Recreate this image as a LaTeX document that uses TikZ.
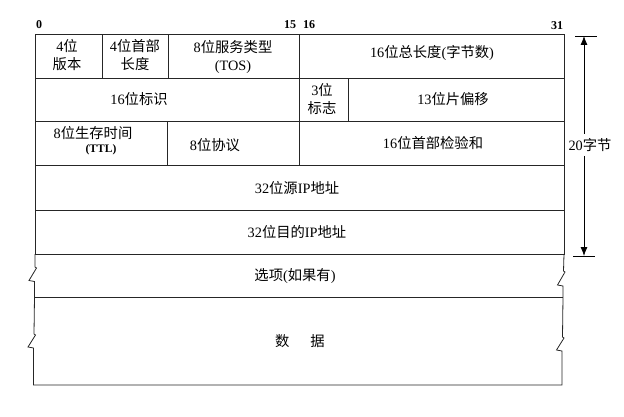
\documentclass[tikz,border=0pt]{standalone}
\usepackage{fontspec}
\setmainfont{Liberation Serif}
\newfontfamily\zhfont{Noto Sans CJK SC}
\newcommand\zh[1]{{\zhfont #1}}
\usetikzlibrary{fit,arrows.meta}
\begin{document}
\begin{tikzpicture}[x=1pt,y=-1pt,
  frame/.style={draw=black!85,line width=0.8pt},
  field/.style={frame,inner sep=0pt,fill=none},
  txt/.style={font=\fontsize{14.3}{18}\selectfont,align=center,inner sep=0pt},
  bit/.style={font=\bfseries\fontsize{12}{13}\selectfont,inner sep=0pt},
  dim/.style={draw=black,line width=0.8pt},
  tip/.style={-{Latex[length=9pt,width=7pt]}}]
\useasboundingbox (0,0) rectangle (624,417);
% bit numbers
\node[bit] (b0)  at (39,25) {0};
\node[bit] (b15) at (290,25) {15};
\node[bit] (b16) at (309,25) {16};
\node[bit] (b31) at (557,26) {31};
% row 1
\node[field,fit={(35,34) (102,78)}] (ver) {};
\node[field,fit={(102,34) (168,78)}] (ihl) {};
\node[field,fit={(168,34) (299,78)}] (tos) {};
\node[field,fit={(299,34) (564,78)}] (len) {};
\node[txt] (tver) at (67,55) {4\zh{位}\\\zh{版本}};
\node[txt] (tihl) at (135,55) {4\zh{位首部}\\\zh{长度}};
\node[txt] (ttos) at (233,57) {8\zh{位服务类型}\\(TOS)};
\node[txt] (tlen) at (432,53) {16\zh{位总长度}(\zh{字节数})};
% row 2
\node[field,fit={(35,78) (299,121)}] (id) {};
\node[field,fit={(299,78) (348,121)}] (flg) {};
\node[field,fit={(348,78) (564,121)}] (off) {};
\node[txt] (tid) at (139,99) {16\zh{位标识}};
\node[txt] (tflg) at (322,99) {3\zh{位}\\\zh{标志}};
\node[txt] (toff) at (453,99) {13\zh{位片偏移}};
% row 3
\node[field,fit={(35,121) (167,165)}] (ttl) {};
\node[field,fit={(167,121) (299,165)}] (pro) {};
\node[field,fit={(299,121) (564,165)}] (chk) {};
\node[txt] (tttl) at (93,133) {8\zh{位生存时间}};
\node[txt,font=\bfseries\fontsize{11.5}{13}\selectfont] (tttl2) at (101,150) {(TTL)};
\node[txt] (tpro) at (215,145) {8\zh{位协议}};
\node[txt] (tchk) at (433,143) {16\zh{位首部检验和}};
% rows 4,5
\node[field,fit={(35,165) (564,210)}] (src) {};
\node[field,fit={(35,210) (564,254)}] (dst) {};
\node[txt] (tsrc) at (297,188) {32\zh{位源}IP\zh{地址}};
\node[txt] (tdst) at (297,232) {32\zh{位目的}IP\zh{地址}};
% options and data with break marks
\draw[frame] (35,254) -- (35,267) -- (36.5,268) -- (29,280.5) -- (34.5,281.5) -- (34.5,297)
  -- (34,334) -- (35.5,335) -- (28,347) -- (33.5,348) -- (33.5,385) -- (562,385)
  -- (562,351) -- (556.5,350) -- (564,338) -- (562.5,337) -- (563,297)
  -- (563,286) -- (557.5,285) -- (565,272) -- (563.5,271) -- (564,254);
\draw[frame] (34.5,297) -- (563,297);
\node[txt] (topt) at (295,276) {\zh{选项}(\zh{如果有})};
\node[txt] (tdat) at (300,341) {\zh{数}\hspace{21pt}\zh{据}};
% 20 bytes dimension
\coordinate (ttop) at (584,36);
\coordinate (tbot) at (584,256);
\draw[dim] (575,36) -- (597,36);
\draw[dim] (573,256) -- (595,256);
\node[txt,fill=white,inner sep=1pt] (t20) at (590,145) {20\zh{字节}};
\draw[dim,tip] (584,134) -- (ttop);
\draw[dim,tip] (584,156) -- (tbot);
\end{tikzpicture}
\end{document}
